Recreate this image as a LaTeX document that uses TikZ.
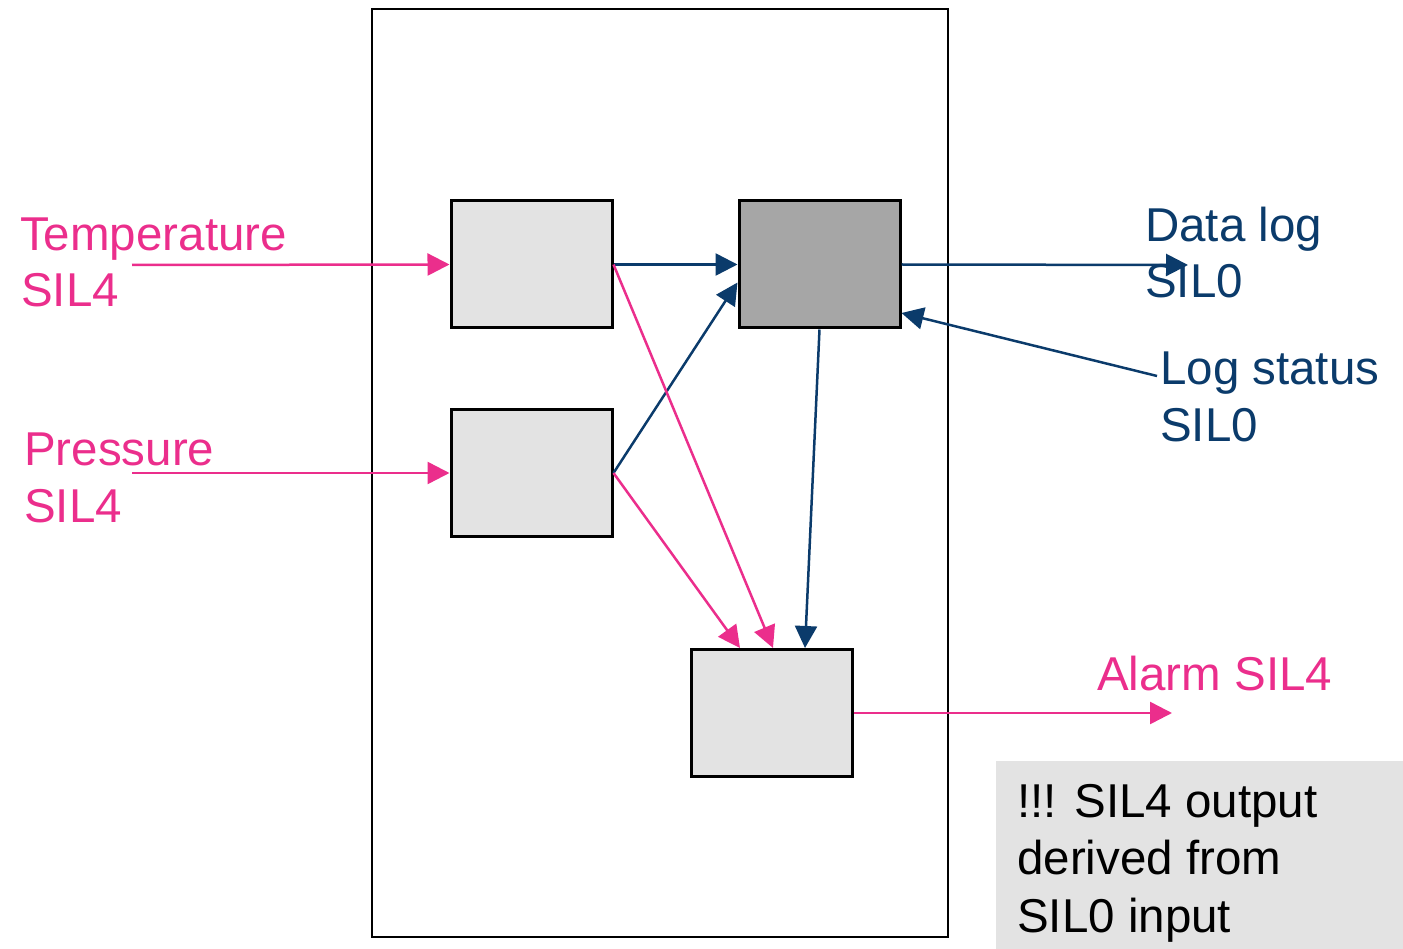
\documentclass[tikz,border=0pt]{standalone}
\usepackage{fontspec}
\setmainfont{Liberation Sans}
\usetikzlibrary{arrows.meta,calc}
\definecolor{silpink}{RGB}{235,46,140}
\definecolor{silblue}{RGB}{11,59,107}
\definecolor{boxlight}{RGB}{227,227,227}
\definecolor{boxdark}{RGB}{166,166,166}
\begin{document}
\begin{tikzpicture}[x=1pt,y=-1pt,
  every node/.style={font=\fontsize{47.5}{56.5}\selectfont},
  block/.style={draw=black,line width=3pt,fill=boxlight,minimum width=161pt,minimum height=127pt,inner sep=0pt},
  lbl/.style={anchor=base west,inner sep=0pt},
  pinkarrow/.style={draw=silpink,line width=2.5pt,-{Triangle[length=22pt,width=22pt]},color=silpink},
  bluearrow/.style={draw=silblue,line width=2.5pt,-{Triangle[length=22pt,width=22pt]},color=silblue}]
\useasboundingbox (0,0) rectangle (1403,949);

% system boundary
\node[draw=black,line width=2.2pt,minimum width=576pt,minimum height=928pt,inner sep=0pt] (sys) at (660,473) {};

% processing blocks
\node[block] (temp) at (531.5,264.5) {};
\node[block] (pres) at (531.5,473) {};
\node[block,fill=boxdark] (log) at (819.5,264.5) {};
\node[block] (alarm) at (771.5,713) {};

% note
\node[fill=boxlight,minimum width=407pt,minimum height=188pt,inner sep=0pt] (note) at (1199.5,855) {};
\node[lbl] (n1) at (1017,817) {!!! SIL4 output};
\node[lbl] (n2) at (1017,874) {derived from};
\node[lbl] (n3) at (1017,932) {SIL0 input};

% labels
\node[lbl,text=silpink] (tl1) at (20,251) {Temperature};
\node[lbl,text=silpink] (tl2) at (21,307) {SIL4};
\node[lbl,text=silpink] (pl1) at (24,465) {Pressure};
\node[lbl,text=silpink] (pl2) at (24,522) {SIL4};
\node[lbl,text=silblue] (dl1) at (1145,242) {Data log};
\node[lbl,text=silblue] (dl2) at (1145,298) {SIL0};
\node[lbl,text=silblue] (ls1) at (1160,385) {Log status};
\node[lbl,text=silblue] (ls2) at (1160,442) {SIL0};
\node[lbl,text=silpink] (al) at (1097,690) {Alarm SIL4};

% free connector ends
\coordinate (tin) at (132,265);
\coordinate (pin) at (132,473);
\coordinate (dout) at (1188,265);
\coordinate (lsin) at (1157,376);
\coordinate (aout) at (1172,713);

% connectors (shifts are in canvas units: negative y moves down)
\draw[pinkarrow] (tin) -- (temp.west);
\draw[pinkarrow] (pin) -- (pres.west);
\draw[bluearrow] (temp.east) -- (log.west);
\draw[bluearrow] (pres.east) -- ([yshift=-18pt]log.west);
\draw[pinkarrow] (temp.east) -- ([xshift=1.5pt]alarm.north);
\draw[pinkarrow] (pres.east) -- ([xshift=-31.5pt]alarm.north);
\draw[bluearrow] (log.south) -- ([xshift=33.5pt]alarm.north);
\draw[bluearrow] (log.east) -- (dout);
\draw[bluearrow] (lsin) -- ([yshift=-48.5pt]log.east);
\draw[pinkarrow] (alarm.east) -- (aout);
\end{tikzpicture}
\end{document}
